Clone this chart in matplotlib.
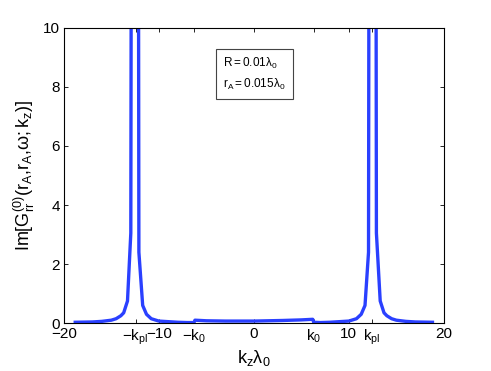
import numpy as np
import matplotlib
matplotlib.use("Agg")
import matplotlib.pyplot as plt

plt.rcParams['font.family'] = ['Liberation Sans', 'DejaVu Sans']
plt.rcParams['mathtext.fontset'] = 'custom'
plt.rcParams['mathtext.rm'] = 'Liberation Sans'
plt.rcParams['mathtext.it'] = 'Liberation Sans'

# curve samples (k_z * lambda_0, Im G)
kz = [-18.8, -17.0, -16.0, -15.0, -14.5, -14.0, -13.7, -13.3, -12.95, -12.5,
      -12.1, -11.7, -11.3, -10.8, -10.0, -9.0, -8.0, -7.0, -6.3, -6.2,
      -5.0, -3.0, 0.0, 3.0, 5.0, 6.2, 6.3, 7.0, 8.0, 9.0,
      10.0, 10.8, 11.3, 11.7, 12.07, 12.5, 12.9, 13.3, 13.7, 14.0,
      14.5, 15.0, 16.0, 17.0, 18.8]
im_g = [0.03, 0.04, 0.06, 0.1, 0.15, 0.25, 0.35, 0.75, 3.05, 100.0,
        2.4, 0.6, 0.3, 0.15, 0.07, 0.05, 0.03, 0.02, 0.02, 0.1,
        0.08, 0.07, 0.07, 0.09, 0.11, 0.13, 0.03, 0.02, 0.03, 0.05,
        0.07, 0.15, 0.3, 0.6, 2.4, 100.0, 3.05, 0.75, 0.35, 0.25,
        0.15, 0.1, 0.06, 0.04, 0.03]

k0 = 2 * np.pi
kpl = 12.45
xtick_pos = [-20, -kpl, -10, -k0, 0, k0, 10, kpl, 20]
xtick_lab = ['\u221220', r'$\mathregular{-k_{pl}}$', '\u221210', r'$\mathregular{-k_0}$',
             '0', r'$\mathregular{k_0}$', '10', r'$\mathregular{k_{pl}}$', '20']
yticks = [0, 2, 4, 6, 8, 10]

fig = plt.figure(figsize=(4.91, 3.71), dpi=100)
ax = fig.add_axes([0.130, 0.129, 0.774, 0.796])
ax.plot(kz, im_g, color='#2a40ff', lw=2.4, solid_joinstyle='round')
ax.set_xlim(-20, 20)
ax.set_ylim(0, 10)
ax.set_xticks(xtick_pos)
ax.set_xticklabels(xtick_lab)
ax.set_yticks(yticks)
ax.tick_params(direction='in', top=True, right=True, labelsize=11, length=3, width=0.6, pad=3)
for s in ax.spines.values():
    s.set_linewidth(0.8)

ax.set_xlabel(r'$\mathregular{k_z\lambda_0}$', fontsize=13, labelpad=1)
ax.set_ylabel(r'$\mathregular{Im[G^{(0)}_{rr}(r_A{,}r_A{,}\omega{;}k_z)]}$', fontsize=13, labelpad=4)

ax.text(0.42, 0.905, r'$\mathregular{R=0.01\lambda_0}$' + '\n' + r'$\mathregular{r_A=0.015\lambda_0}$',
        transform=ax.transAxes, fontsize=8.5, va='top', ha='left', linespacing=1.5,
        bbox=dict(boxstyle='square,pad=0.6', fc='white', ec='#444444', lw=0.8))

fig.savefig('out.png', dpi=100)
